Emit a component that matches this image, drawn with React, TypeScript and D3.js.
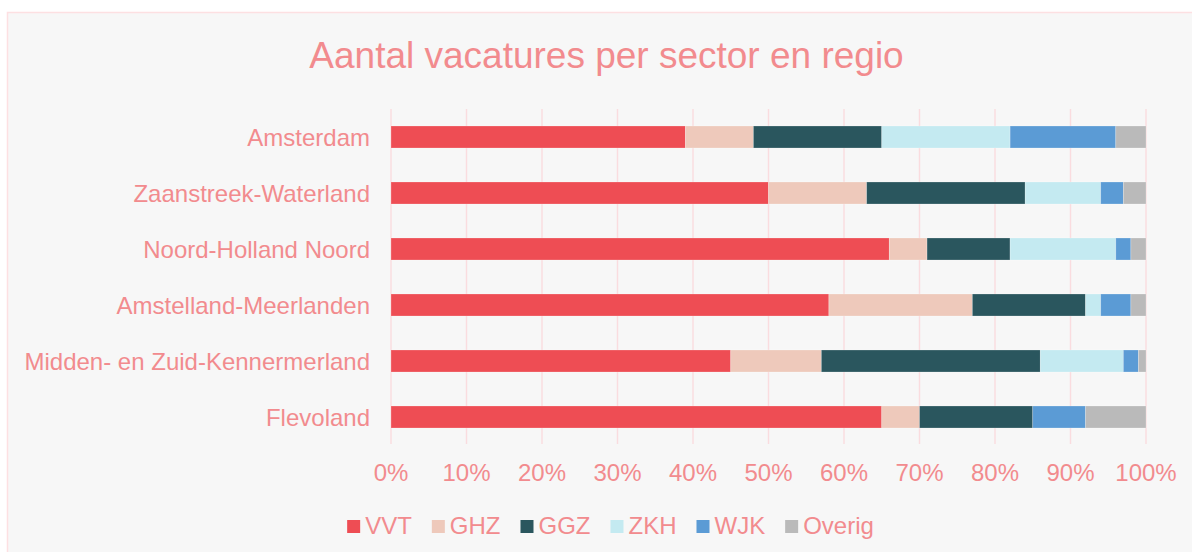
import React, { useMemo } from "react";
import * as d3 from "d3";

const title = "Aantal vacatures per sector en regio";
const regions = [
  "Amsterdam",
  "Zaanstreek-Waterland",
  "Noord-Holland Noord",
  "Amstelland-Meerlanden",
  "Midden- en Zuid-Kennermerland",
  "Flevoland",
];
const sectors = ["VVT", "GHZ", "GGZ", "ZKH", "WJK", "Overig"];
const vvt = [39, 50, 66, 58, 45, 65];
const ghz = [9, 13, 5, 19, 12, 5];
const ggz = [17, 21, 11, 15, 29, 15];
const zkh = [17, 10, 14, 2, 11, 0];
const wjk = [14, 3, 2, 4, 2, 7];
const overig = [4, 3, 2, 2, 1, 8];
const sectorColors = ["#ee4d54", "#eec9bb", "#2a565e", "#c4eaf1", "#5b9bd5", "#bababa"];
const xTicks = [0, 10, 20, 30, 40, 50, 60, 70, 80, 90, 100];

const W = 1192;
const H = 552;
const FONT = "'Liberation Sans', Arial, Helvetica, sans-serif";
const TEXT = "#f28b8e";
const GRID = "#fadcdf";

export default function App() {
  const seriesValues = [vvt, ghz, ggz, zkh, wjk, overig];
  const table = regions.map((r, i) => {
    const row: Record<string, any> = { region: r };
    sectors.forEach((s, j) => (row[s] = seriesValues[j][i]));
    return row;
  });
  const stacked = d3.stack<any>().keys(sectors)(table);

  const x = d3.scaleLinear().domain([0, 100]).range([391, 1146]);
  const y = d3.scaleBand().domain(regions).range([109, 445]).paddingInner(0.607).paddingOuter(0.3035);

  const legend = useMemo(() => {
    const canvas = document.createElement("canvas");
    const ctx = canvas.getContext("2d")!;
    ctx.font = `24px ${FONT}`;
    const sq = 13, gapT = 5, gapI = 20;
    const widths = sectors.map((s) => ctx.measureText(s).width);
    const total = widths.reduce((a, w) => a + sq + gapT + w, 0) + gapI * (sectors.length - 1);
    let cx = 610.5 - total / 2;
    return sectors.map((s, i) => {
      const item = { s, sx: cx, tx: cx + sq + gapT, color: sectorColors[i] };
      cx += sq + gapT + widths[i] + gapI;
      return item;
    });
  }, []);

  return (
    <svg
      width={W}
      height={H}
      style={{ position: "absolute", left: 0, top: 0, background: "#ffffff" }}
      fontFamily={FONT}
    >
      <rect x={7.5} y={12.5} width={W + 20} height={H + 20} fill="#f7f7f7" stroke="#fde0e2" strokeWidth={1.5} />
      <text x={606.5} y={68} textAnchor="middle" fontSize={37} fill={TEXT}>
        {title}
      </text>
      {xTicks.map((t) => (
        <line key={"g" + t} x1={x(t)} x2={x(t)} y1={109} y2={444} stroke={GRID} strokeWidth={1.4} />
      ))}
      {stacked.map((layer, j) => (
        <g key={layer.key} fill={sectorColors[j]}>
          {layer.map((d, i) =>
            d[1] - d[0] > 0 ? (
              <rect
                key={i}
                x={x(d[0])}
                y={y(regions[i])!}
                width={x(d[1]) - x(d[0])}
                height={y.bandwidth()}
                stroke="#ffffff"
                strokeOpacity={0.3}
                strokeWidth={0.75}
              />
            ) : null
          )}
        </g>
      ))}
      {regions.map((r) => (
        <text
          key={r}
          x={370}
          y={y(r)! + y.bandwidth() / 2}
          dy="0.36em"
          textAnchor="end"
          fontSize={24}
          fill={TEXT}
        >
          {r}
        </text>
      ))}
      {xTicks.map((t) => (
        <text key={"t" + t} x={x(t)} y={481} textAnchor="middle" fontSize={24} fill={TEXT}>
          {t + "%"}
        </text>
      ))}
      {legend.map((l) => (
        <g key={l.s}>
          <rect x={l.sx} y={520} width={13} height={13} fill={l.color} />
          <text x={l.tx} y={534} fontSize={24} fill={TEXT}>
            {l.s}
          </text>
        </g>
      ))}
    </svg>
  );
}
